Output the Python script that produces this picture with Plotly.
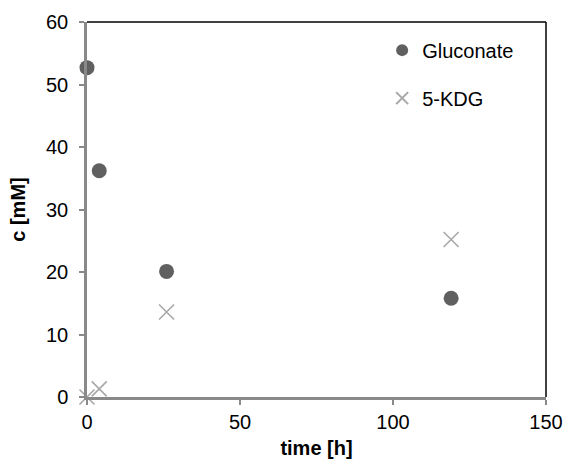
import plotly.graph_objects as go

time_gluc = [0, 4, 26, 119]
gluconate = [52.7, 36.2, 20.1, 15.8]
time_kdg = [0, 4, 26, 119]
kdg = [0.0, 1.3, 13.6, 25.2]

x_ticks = [0, 50, 100, 150]
y_ticks = [0, 10, 20, 30, 40, 50, 60]

fig = go.Figure()
fig.add_trace(go.Scatter(
    x=time_gluc, y=gluconate, mode="markers", name="Gluconate",
    legendgroup="g1",
    marker=dict(symbol="circle", size=15, color="#606060"),
    cliponaxis=False,
))
fig.add_trace(go.Scatter(
    x=time_kdg, y=kdg, mode="markers", name="5-KDG",
    legendgroup="g2",
    marker=dict(symbol="x-thin", size=15, color="#a8a8a8",
                line=dict(width=1.6, color="#a8a8a8")),
    cliponaxis=False,
))

font_family = "Liberation Sans, Arial, sans-serif"
tick_font = dict(family=font_family, size=20, color="#000000")

fig.update_layout(
    width=565, height=459,
    margin=dict(l=87, r=19, t=22, b=62),
    paper_bgcolor="white", plot_bgcolor="white",
    font=dict(family=font_family, size=20, color="#000000"),
    showlegend=True,
    legend=dict(x=0.643, y=0.977, xanchor="left", yanchor="top",
                bgcolor="rgba(0,0,0,0)", font=dict(size=20, color="#000"),
                tracegroupgap=19, itemwidth=30, itemsizing="constant"),
    xaxis=dict(range=[0, 150], tickvals=x_ticks, showgrid=False, zeroline=False,
               automargin=False,
               showline=True, linecolor="#898989", linewidth=2.5,
               ticks="outside", ticklen=5, tickwidth=1.5, tickcolor="#898989",
               tickfont=tick_font,
               title=dict(text="<b>time [h]</b>", font=dict(size=20), standoff=12)),
    yaxis=dict(range=[0, 60], tickvals=y_ticks, showgrid=False, zeroline=False,
               automargin=False,
               showline=True, linecolor="#898989", linewidth=2.5,
               ticks="outside", ticklen=5, tickwidth=1.5, tickcolor="#898989",
               tickfont=tick_font, ticklabelstandoff=7,
               title=dict(text="<b>c [mM]</b>", font=dict(size=20), standoff=16)),
    shapes=[
        dict(type="line", xref="paper", yref="paper", x0=0, x1=1, y0=1, y1=1,
             line=dict(color="#000000", width=1.5)),
        dict(type="line", xref="paper", yref="paper", x0=1, x1=1, y0=0, y1=1,
             line=dict(color="#000000", width=1.5)),
    ],
)

fig.write_html("out.html")
